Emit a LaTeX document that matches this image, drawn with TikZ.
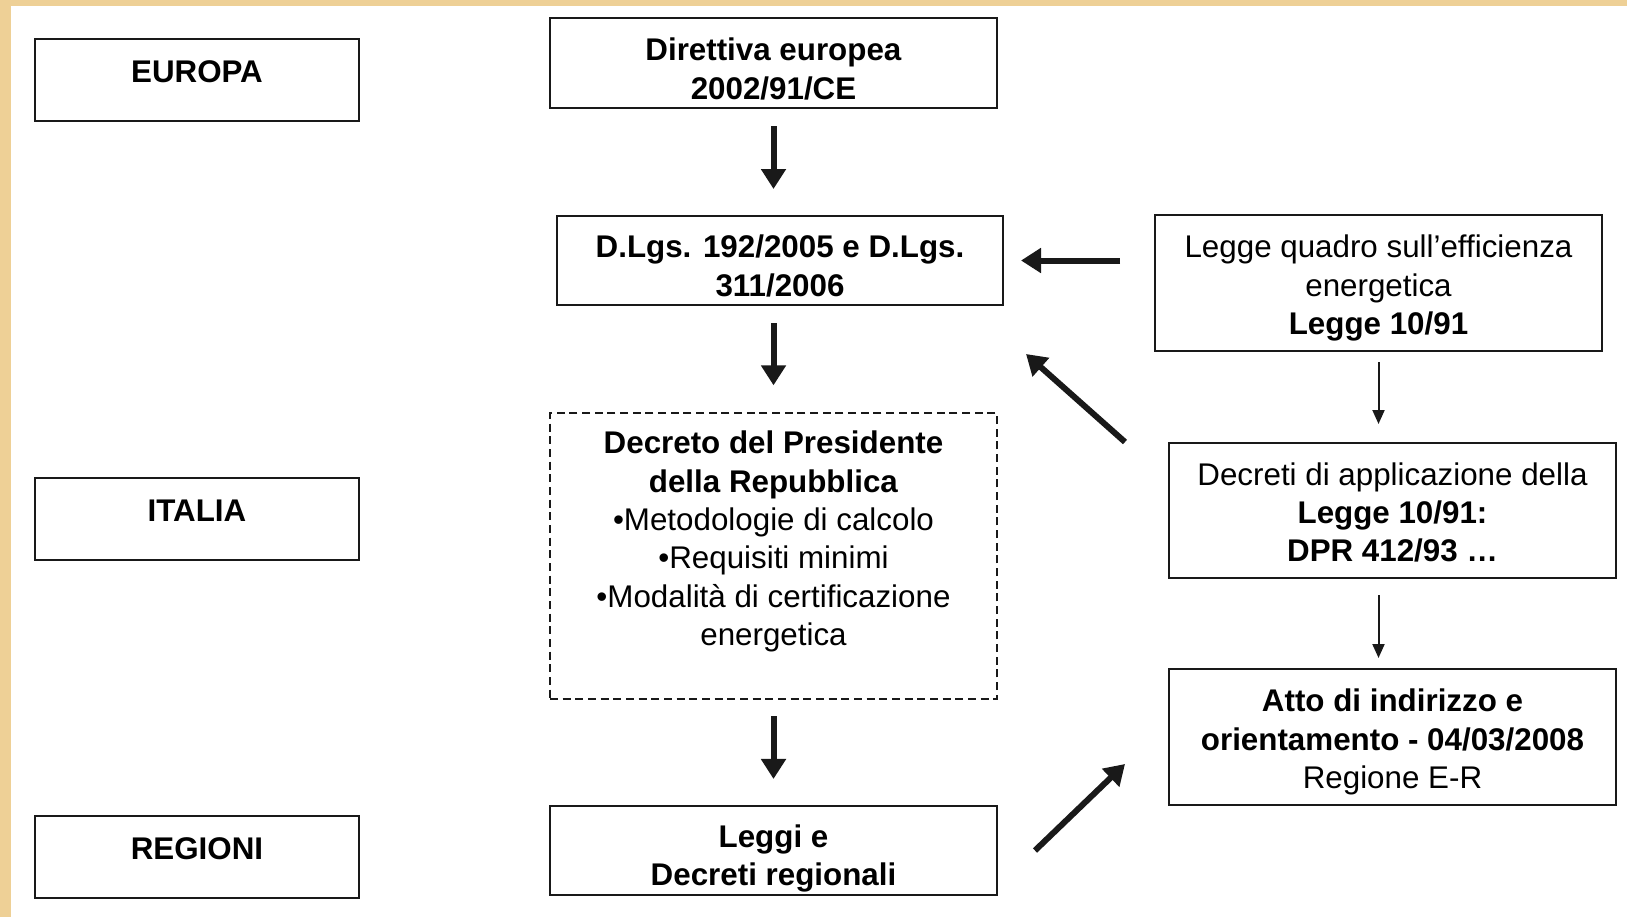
\documentclass[tikz,border=0pt]{standalone}
\usepackage{fontspec}
\setmainfont{Liberation Sans}
\usepackage{xcolor}
\definecolor{frameBeige}{RGB}{238,208,150}
\definecolor{lineBlack}{RGB}{25,25,25}
\usepackage{tikz}
\usetikzlibrary{arrows.meta,calc}
\newcommand{\boxfont}{\fontsize{23.5}{28.8}\selectfont}
\newcommand{\topgap}[1]{\rule{0pt}{#1}}
\tikzset{
  lawbox/.style={rectangle,draw=lineBlack,line width=1.5pt,fill=white,
    minimum width=#1,align=center,inner sep=2pt,font=\boxfont},
  lawbox/.default=335.25pt,
  levelbox/.style={lawbox=243pt,minimum height=61.5pt,text depth=12pt,
    font=\boxfont\bfseries},
  dashbox/.style={lawbox,dash pattern=on 6pt off 3.5pt},
  bigarrow/.style={-{Triangle[length=15pt,width=18pt]},draw=lineBlack,line width=4.5pt},
  thinarrow/.style={-{Triangle[length=10.5pt,width=9pt]},draw=lineBlack,line width=1.5pt}
}

\begin{document}
\begin{tikzpicture}[x=0.75pt,y=-0.75pt]
  \useasboundingbox (0,0) rectangle (1627,917);
  \fill[white] (0,0) rectangle (1627,917);
  \fill[frameBeige] (0,0) rectangle (11,917);
  \fill[frameBeige] (0,0) rectangle (1627,6);

  \node[levelbox] (europa) at (197,80) {EUROPA};
  \node[levelbox] (italia) at (197,519) {ITALIA};
  \node[levelbox] (regioni) at (197,857) {REGIONI};

  \node[lawbox, minimum height=67.5pt] (direttiva) at (773.5,63)
    {\topgap{26pt}\textbf{Direttiva europea}\\\textbf{2002/91/CE}};
  \node[lawbox=334.5pt, minimum height=66.75pt] (dlgs) at (780,260.5)
    {\topgap{25pt}\textbf{D.Lgs. 192/2005 e D.Lgs.}\\\textbf{311/2006}};
  \node[dashbox, minimum height=214.5pt] (dpr) at (773.5,556) {};
  \node[anchor=north, inner sep=0pt, align=center, font=\boxfont] (dprtext)
    at ([yshift=-14pt]dpr.north)
    {\textbf{Decreto del Presidente}\\\textbf{della Repubblica}\\
     •Metodologie di calcolo\\•Requisiti minimi\\
     •Modalità di certificazione\\energetica};
  \node[lawbox, minimum height=66.75pt] (leggi) at (773.5,850.5)
    {\topgap{29pt}\textbf{Leggi e}\\\textbf{Decreti regionali}};

  \node[lawbox, minimum height=102pt] (lq) at (1378.5,283)
    {\topgap{25pt}Legge quadro sull’efficienza\\energetica\\\textbf{Legge 10/91}};
  \node[lawbox, minimum height=101.25pt] (decreti) at (1392.5,510.5)
    {\topgap{20pt}Decreti di applicazione della\\\textbf{Legge 10/91:}\\\textbf{DPR 412/93 \dots}};
  \node[lawbox, minimum height=102pt] (atto) at (1392.5,737)
    {\topgap{24.5pt}\textbf{Atto di indirizzo e}\\\textbf{orientamento - 04/03/2008}\\Regione E-R};

  \draw[bigarrow, shorten <=12.75pt, shorten >=19.5pt] (direttiva.south) -- (direttiva.south |- dlgs.north);
  \draw[bigarrow, shorten <=12.75pt, shorten >=20pt] (direttiva.south |- dlgs.south) -- (direttiva.south |- dpr.north);
  \draw[bigarrow, shorten <=12pt, shorten >=19.5pt] (dpr.south) -- (leggi.north);
  \draw[bigarrow, shorten <=25.5pt, shorten >=12.75pt] (lq.west |- dlgs.east) -- (dlgs.east);
  \draw[bigarrow] ([xshift=-32.25pt]decreti.north west) -- ([xshift=16.5pt,yshift=-36pt]dlgs.south east);
  \draw[bigarrow] ([xshift=27.75pt]leggi.east) -- ([xshift=-32.25pt,yshift=31.5pt]atto.south west);
  \draw[thinarrow, shorten <=7.5pt, shorten >=13.5pt] (lq.south) -- (lq.south |- decreti.north);
  \draw[thinarrow, shorten <=12pt, shorten >=7.5pt] (lq.south |- decreti.south) -- (lq.south |- atto.north);
\end{tikzpicture}
\end{document}
